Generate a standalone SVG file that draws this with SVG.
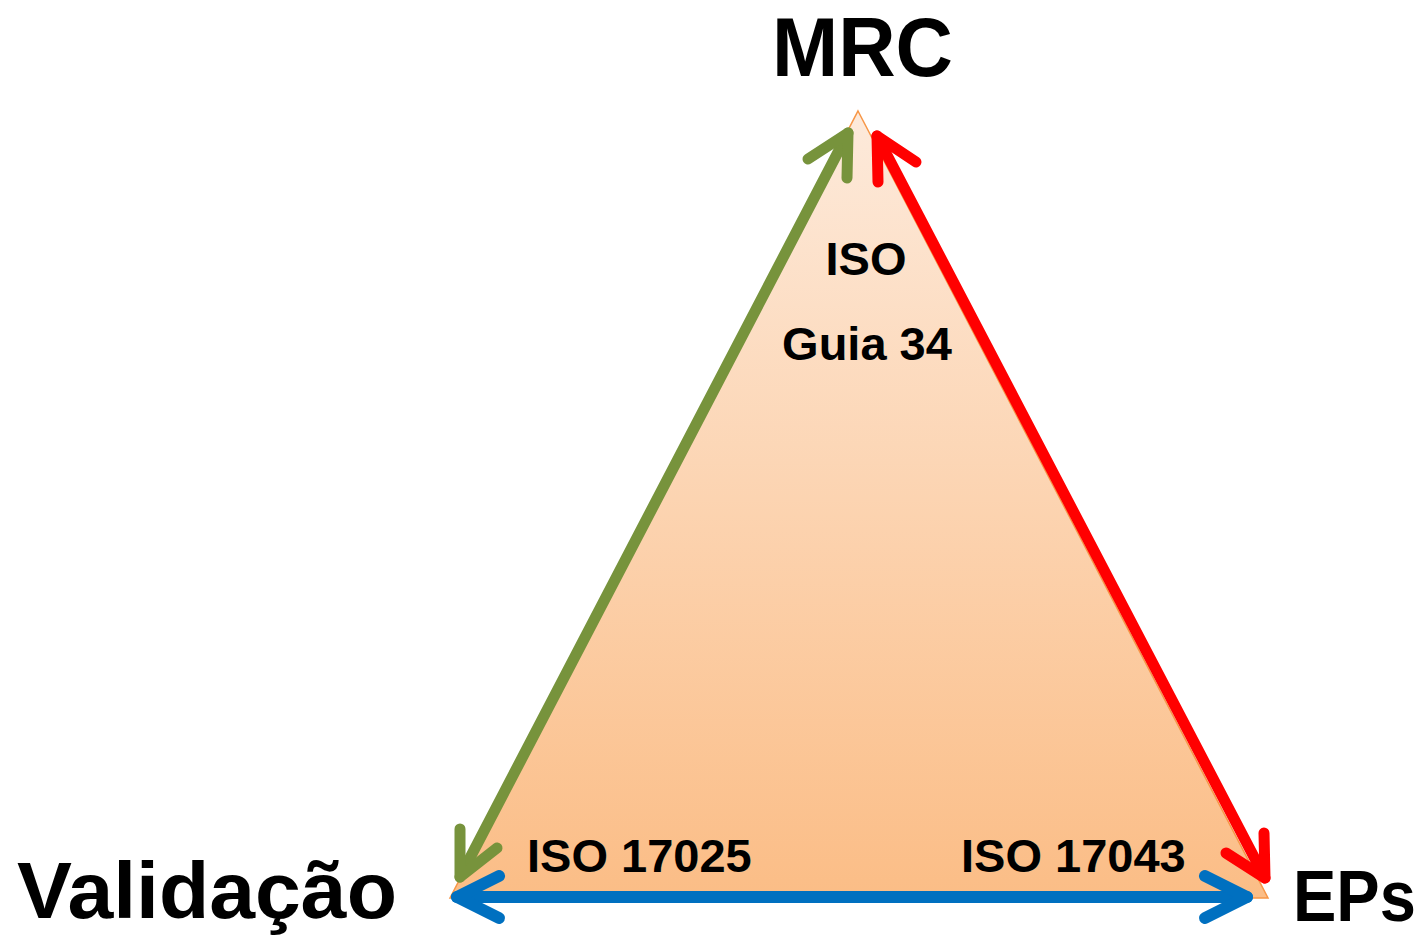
<svg xmlns="http://www.w3.org/2000/svg" width="1427" height="938" viewBox="0 0 1427 938">
<style>
.big{font-family:"Liberation Sans",Arial,sans-serif;font-weight:bold;fill:#000}
.lbl{font-family:"Liberation Sans",Arial,sans-serif;font-weight:bold;font-size:47px;fill:#000}
.arr{fill:none;stroke-linecap:round;stroke-linejoin:round}
</style>
<defs>
<linearGradient id="tg" x1="0" y1="0" x2="0" y2="1">
<stop offset="0" stop-color="#fdeadb"/>
<stop offset="1" stop-color="#fbbd86"/>
</linearGradient>
</defs>
<rect width="1427" height="938" fill="#fff"/>
<g id="triangle">
<polygon points="858,111 1268,898 450,898" fill="url(#tg)" stroke="#f79646" stroke-width="1.5"/>
</g>
<g id="connectors">
<g class="arr" stroke="#77933c" stroke-width="11">
<line x1="460" y1="877" x2="848" y2="133"/>
<polyline points="808,159 848,133 847,178"/>
<polyline points="460,829 460,877 497,848"/>
</g>
<g class="arr" stroke="#ff0000" stroke-width="11">
<line x1="877" y1="136" x2="1265" y2="878"/>
<polyline points="916,162 877,136 878,182"/>
<polyline points="1264,833 1265,878 1226,853"/>
</g>
<g class="arr" stroke="#0070c0" stroke-width="12">
<line x1="457" y1="897" x2="1247" y2="897"/>
<polyline points="499,876 457,897 499,918"/>
<polyline points="1205,876 1247,897 1205,918"/>
</g>
</g>
<g id="node-mrc"><text class="big" x="772" y="76" font-size="84" textLength="181" lengthAdjust="spacingAndGlyphs">MRC</text></g>
<g id="node-validacao"><text class="big" x="17" y="918" font-size="79" textLength="380" lengthAdjust="spacingAndGlyphs">Validação</text></g>
<g id="node-eps"><text class="big" transform="translate(1293,921) scale(0.89,1)" x="0" y="0" font-size="73">EPs</text></g>
<g id="label-iso-guia">
<text class="lbl" x="866" y="275" text-anchor="middle">ISO</text>
<text class="lbl" x="867" y="360" text-anchor="middle">Guia 34</text>
</g>
<g id="label-17025"><text class="lbl" x="527" y="872">ISO 17025</text></g>
<g id="label-17043"><text class="lbl" x="961" y="872">ISO 17043</text></g>
</svg>
